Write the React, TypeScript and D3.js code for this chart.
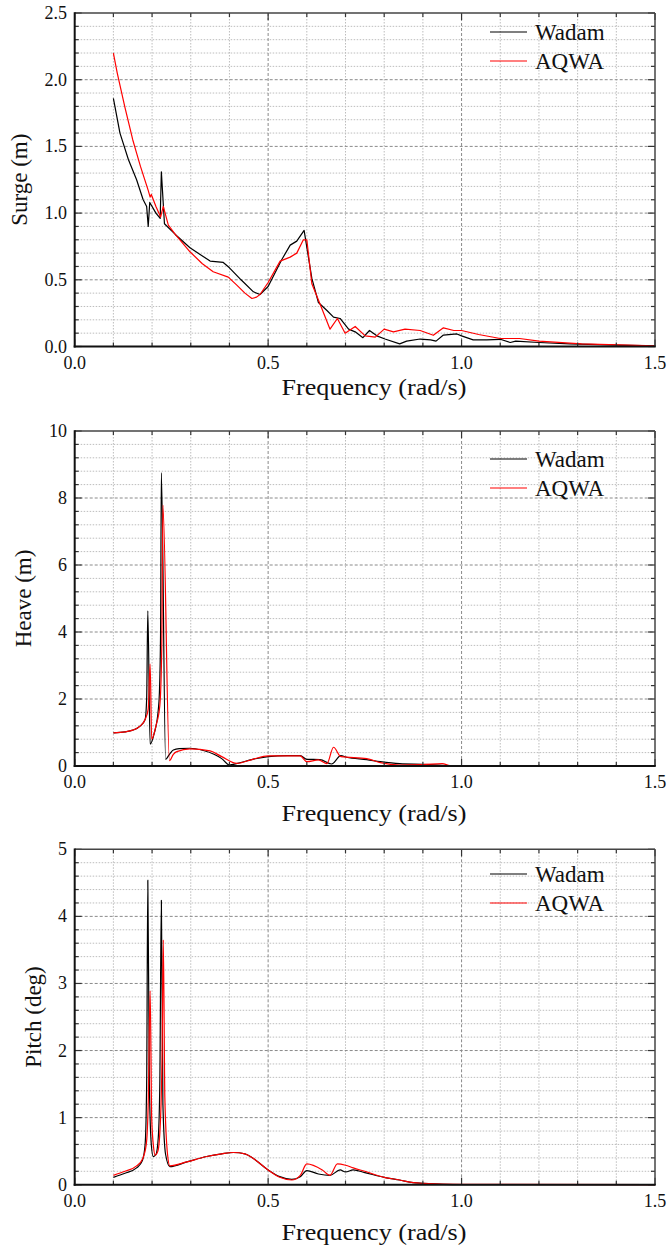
import React from "react";
import * as d3 from "d3";

// ---------- DATA ----------
const xTicks = [0.0, 0.5, 1.0, 1.5];
const seriesNames = ["Wadam", "AQWA"];

const surgeFreqW = [0.10, 0.117, 0.139, 0.16, 0.177, 0.186, 0.19, 0.194, 0.21, 0.221, 0.224, 0.232, 0.26, 0.298, 0.35, 0.384, 0.40, 0.43, 0.462, 0.479, 0.50, 0.535, 0.557, 0.574, 0.593, 0.613, 0.63, 0.652, 0.669, 0.686, 0.708, 0.725, 0.745, 0.762, 0.781, 0.802, 0.84, 0.858, 0.893, 0.92, 0.934, 0.953, 0.988, 1.0, 1.03, 1.065, 1.10, 1.126, 1.14, 1.20, 1.28, 1.40, 1.50];
const surgeWadam = [1.86, 1.60, 1.40, 1.25, 1.10, 1.05, 0.90, 1.08, 1.00, 0.96, 1.31, 0.92, 0.84, 0.74, 0.64, 0.63, 0.59, 0.50, 0.41, 0.39, 0.45, 0.65, 0.76, 0.79, 0.87, 0.51, 0.33, 0.27, 0.22, 0.21, 0.13, 0.11, 0.066, 0.12, 0.08, 0.056, 0.02, 0.04, 0.056, 0.05, 0.04, 0.086, 0.094, 0.08, 0.05, 0.05, 0.054, 0.03, 0.04, 0.03, 0.02, 0.01, 0.005];
const surgeFreqA = [0.10, 0.11, 0.12, 0.13, 0.14, 0.15, 0.16, 0.17, 0.18, 0.19, 0.195, 0.198, 0.21, 0.222, 0.229, 0.242, 0.26, 0.298, 0.33, 0.358, 0.397, 0.419, 0.44, 0.458, 0.47, 0.479, 0.50, 0.531, 0.557, 0.574, 0.591, 0.60, 0.613, 0.638, 0.66, 0.679, 0.699, 0.725, 0.751, 0.777, 0.80, 0.824, 0.854, 0.893, 0.927, 0.953, 0.98, 1.0, 1.044, 1.10, 1.15, 1.20, 1.31, 1.50];
const surgeAqwa = [2.20, 2.05, 1.92, 1.79, 1.67, 1.55, 1.45, 1.35, 1.26, 1.17, 1.12, 1.14, 1.05, 0.97, 1.05, 0.91, 0.84, 0.71, 0.62, 0.56, 0.52, 0.46, 0.40, 0.36, 0.37, 0.39, 0.48, 0.64, 0.67, 0.70, 0.80, 0.80, 0.47, 0.29, 0.13, 0.21, 0.10, 0.15, 0.08, 0.07, 0.13, 0.11, 0.13, 0.12, 0.084, 0.14, 0.12, 0.12, 0.09, 0.06, 0.06, 0.04, 0.02, 0.005];

const heaveFreqW = [0.10, 0.13, 0.15, 0.169, 0.182, 0.186, 0.189, 0.195, 0.205, 0.216, 0.219, 0.222, 0.224, 0.235, 0.245, 0.255, 0.27, 0.298, 0.33, 0.36, 0.38, 0.40, 0.418, 0.46, 0.50, 0.55, 0.583, 0.60, 0.634, 0.664, 0.688, 0.703, 0.755, 0.79, 0.84, 0.90, 1.0, 1.5];
const heaveWadam = [0.99, 1.02, 1.07, 1.19, 1.39, 2.0, 4.63, 0.65, 0.95, 1.67, 2.2, 4.0, 8.76, 0.20, 0.35, 0.48, 0.52, 0.53, 0.47, 0.35, 0.22, 0.03, 0.07, 0.20, 0.28, 0.31, 0.31, 0.20, 0.19, 0.06, 0.31, 0.26, 0.19, 0.13, 0.07, 0.05, 0.0, 0.0];
const heaveFreqA = [0.10, 0.13, 0.15, 0.169, 0.182, 0.19, 0.195, 0.199, 0.21, 0.22, 0.225, 0.228, 0.245, 0.255, 0.264, 0.298, 0.35, 0.38, 0.419, 0.46, 0.50, 0.583, 0.60, 0.63, 0.652, 0.669, 0.688, 0.755, 0.79, 0.84, 0.90, 0.95, 0.97, 1.0, 1.5];
const heaveAqwa = [0.99, 1.02, 1.07, 1.19, 1.39, 1.70, 3.04, 0.80, 1.20, 1.80, 3.50, 7.79, 0.16, 0.35, 0.43, 0.51, 0.45, 0.28, 0.08, 0.20, 0.30, 0.30, 0.13, 0.18, 0.07, 0.56, 0.28, 0.22, 0.10, 0.03, 0.04, 0.07, 0.01, 0.0, 0.0];

const pitchFreqW = [0.10, 0.13, 0.16, 0.175, 0.182, 0.186, 0.189, 0.193, 0.198, 0.203, 0.21, 0.216, 0.22, 0.224, 0.228, 0.235, 0.246, 0.29, 0.341, 0.38, 0.41, 0.44, 0.462, 0.50, 0.53, 0.561, 0.583, 0.60, 0.63, 0.66, 0.686, 0.70, 0.72, 0.75, 0.80, 0.84, 0.875, 0.90, 1.0, 1.5];
const pitchWadam = [0.11, 0.17, 0.25, 0.36, 0.60, 1.50, 4.54, 1.50, 0.60, 0.42, 0.45, 0.70, 1.50, 4.24, 1.20, 0.45, 0.27, 0.34, 0.42, 0.46, 0.48, 0.46, 0.39, 0.22, 0.12, 0.08, 0.12, 0.21, 0.16, 0.14, 0.22, 0.19, 0.22, 0.18, 0.11, 0.07, 0.03, 0.02, 0.0, 0.0];
const pitchFreqA = [0.10, 0.13, 0.16, 0.175, 0.185, 0.19, 0.195, 0.199, 0.204, 0.208, 0.215, 0.222, 0.226, 0.229, 0.233, 0.24, 0.246, 0.29, 0.341, 0.38, 0.41, 0.44, 0.462, 0.50, 0.53, 0.561, 0.583, 0.60, 0.64, 0.66, 0.679, 0.70, 0.72, 0.75, 0.80, 0.84, 0.875, 0.90, 1.0, 1.5];
const pitchAqwa = [0.14, 0.20, 0.28, 0.38, 0.60, 1.20, 2.89, 1.00, 0.55, 0.44, 0.50, 1.00, 2.00, 3.65, 1.30, 0.45, 0.28, 0.34, 0.42, 0.46, 0.48, 0.46, 0.39, 0.22, 0.11, 0.07, 0.14, 0.31, 0.22, 0.14, 0.31, 0.29, 0.25, 0.20, 0.11, 0.07, 0.03, 0.02, 0.005, 0.0];

const surgeTicks = [0.0, 0.5, 1.0, 1.5, 2.0, 2.5];
const heaveTicks = [0, 2, 4, 6, 8, 10];
const pitchTicks = [0, 1, 2, 3, 4, 5];

// ---------- LAYOUT ----------
const X0 = 74.7;
const X1 = 655;
const FONT = "Liberation Serif, DejaVu Serif, Times New Roman, serif";

type PanelProps = {
  top: number;
  bottom: number;
  yMax: number;
  yTicks: number[];
  yMinorStep: number;
  fmt: (v: number) => string;
  yLabel: string;
  yLabelX: number;
  xTitleY: number;
  legendY: number;
  fw: number[];
  w: number[];
  fa: number[];
  a: number[];
  curve: d3.CurveFactory;
};

function Panel(p: PanelProps) {
  const x = d3.scaleLinear().domain([0, 1.5]).range([X0, X1]);
  const y = d3.scaleLinear().domain([0, p.yMax]).range([p.bottom, p.top]);
  const xMinor = d3.range(0, 16).map((i) => i / 10);
  const nMinor = Math.round(p.yMax / p.yMinorStep);
  const yMinor = d3.range(0, nMinor + 1).map((i) => +(i * p.yMinorStep).toFixed(6));
  const isMajorX = (v: number) => xTicks.some((t) => Math.abs(t - v) < 1e-6);
  const isMajorY = (v: number) => p.yTicks.some((t) => Math.abs(t - v) < 1e-6);
  const line = (fs: number[], vs: number[]) =>
    d3
      .line<number>()
      .x((_, i) => x(fs[i]))
      .y((d) => y(d))
      .curve(p.curve)(vs) || "";

  return (
    <g fontFamily={FONT}>
      {xMinor.filter((v) => !isMajorX(v)).map((v) => (
        <line key={"gx" + v} x1={x(v)} x2={x(v)} y1={p.top} y2={p.bottom} stroke="#bdbdbd" strokeWidth={1} strokeDasharray="1.5,1.5" />
      ))}
      {yMinor.filter((v) => !isMajorY(v)).map((v) => (
        <line key={"gy" + v} x1={X0} x2={X1} y1={y(v)} y2={y(v)} stroke="#bdbdbd" strokeWidth={1} strokeDasharray="1.5,1.5" />
      ))}
      {xTicks.filter((v) => v > 0 && v < 1.5).map((v) => (
        <line key={"Gx" + v} x1={x(v)} x2={x(v)} y1={p.top} y2={p.bottom} stroke="#8a8a8a" strokeWidth={1} strokeDasharray="3,2" />
      ))}
      {p.yTicks.filter((v) => v > 0 && v < p.yMax).map((v) => (
        <line key={"Gy" + v} x1={X0} x2={X1} y1={y(v)} y2={y(v)} stroke="#8a8a8a" strokeWidth={1} strokeDasharray="3,2" />
      ))}
      <path d={line(p.fw, p.w)} fill="none" stroke="#000" strokeWidth={1.2} strokeLinejoin="round" />
      <path d={line(p.fa, p.a)} fill="none" stroke="#ff0000" strokeWidth={1.2} strokeLinejoin="round" />
      {xMinor.map((v) => {
        const len = isMajorX(v) ? 7 : 4;
        return (
          <g key={"tx" + v}>
            <line x1={x(v)} x2={x(v)} y1={p.bottom} y2={p.bottom - len} stroke="#333" strokeWidth={1.2} />
            <line x1={x(v)} x2={x(v)} y1={p.top} y2={p.top + len} stroke="#333" strokeWidth={1.2} />
          </g>
        );
      })}
      {yMinor.map((v) => {
        const len = isMajorY(v) ? 7 : 4;
        return (
          <g key={"ty" + v}>
            <line x1={X0} x2={X0 + len} y1={y(v)} y2={y(v)} stroke="#333" strokeWidth={1.2} />
            <line x1={X1} x2={X1 - len} y1={y(v)} y2={y(v)} stroke="#333" strokeWidth={1.2} />
          </g>
        );
      })}
      <line x1={X0} x2={X1} y1={p.top} y2={p.top} stroke="#444" strokeWidth={1.5} />
      <line x1={X1} x2={X1} y1={p.top} y2={p.bottom} stroke="#444" strokeWidth={1.5} />
      <line x1={X0} x2={X0} y1={p.top - 0.75} y2={p.bottom + 1} stroke="#111" strokeWidth={2} />
      <line x1={X0 - 1} x2={X1 + 0.75} y1={p.bottom} y2={p.bottom} stroke="#111" strokeWidth={2} />
      {p.yTicks.map((v) => (
        <text key={"ly" + v} x={67} y={y(v) + 6} textAnchor="end" fontSize={18} fill="#111">
          {p.fmt(v)}
        </text>
      ))}
      {xTicks.map((v) => (
        <text key={"lx" + v} x={x(v)} y={p.bottom + 22} textAnchor="middle" fontSize={18} fill="#111">
          {v.toFixed(1)}
        </text>
      ))}
      <text
        x={p.yLabelX}
        y={(p.top + p.bottom) / 2}
        transform={`rotate(-90, ${p.yLabelX}, ${(p.top + p.bottom) / 2})`}
        textAnchor="middle"
        dominantBaseline="central"
        fontSize={23}
        fill="#111"
      >
        {p.yLabel}
      </text>
      <text x={374} y={p.xTitleY} textAnchor="middle" fontSize={23} fill="#111" textLength={185} lengthAdjust="spacingAndGlyphs">
        Frequency (rad/s)
      </text>
      {seriesNames.map((name, i) => (
        <g key={name}>
          <line x1={490} x2={527} y1={p.legendY + i * 29} y2={p.legendY + i * 29} stroke={i === 0 ? "#000" : "#ff0000"} strokeWidth={1.2} />
          <text x={535} y={p.legendY + i * 29 + 7.5} fontSize={23} fill="#111">
            {name}
          </text>
        </g>
      ))}
    </g>
  );
}

export default function App() {
  return (
    <svg width={667} height={1249} style={{ position: "absolute", left: 0, top: 0, background: "#fff" }}>
      <rect x={0} y={0} width={667} height={1249} fill="#fff" />
      <Panel top={13} bottom={346.5} yMax={2.5} yTicks={surgeTicks} yMinorStep={0.1} fmt={(v) => v.toFixed(1)}
        yLabel="Surge (m)" yLabelX={19} xTitleY={395} legendY={32}
        fw={surgeFreqW} w={surgeWadam} fa={surgeFreqA} a={surgeAqwa} curve={d3.curveLinear} />
      <Panel top={431} bottom={766} yMax={10} yTicks={heaveTicks} yMinorStep={0.4} fmt={(v) => String(v)}
        yLabel="Heave (m)" yLabelX={23} xTitleY={821} legendY={459}
        fw={heaveFreqW} w={heaveWadam} fa={heaveFreqA} a={heaveAqwa} curve={d3.curveMonotoneX} />
      <Panel top={849.3} bottom={1184.7} yMax={5} yTicks={pitchTicks} yMinorStep={0.2} fmt={(v) => String(v)}
        yLabel="Pitch (deg)" yLabelX={33} xTitleY={1240} legendY={874}
        fw={pitchFreqW} w={pitchWadam} fa={pitchFreqA} a={pitchAqwa} curve={d3.curveMonotoneX} />
    </svg>
  );
}
